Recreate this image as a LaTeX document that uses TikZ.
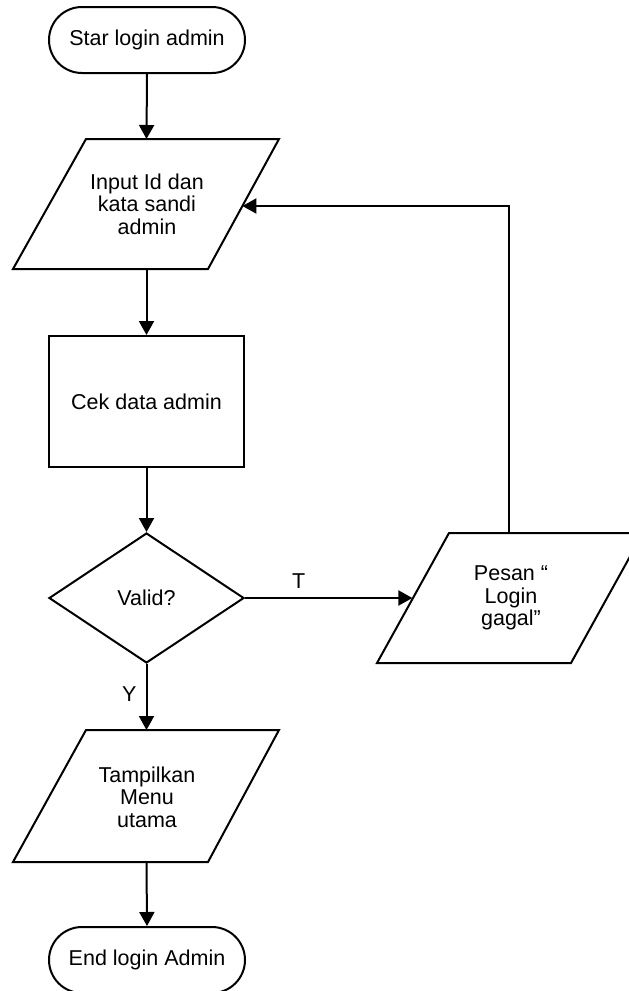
\documentclass[tikz,border=0pt]{standalone}
\usepackage{fontspec}
\setmainfont{Liberation Sans}
\usetikzlibrary{arrows.meta,shapes.geometric}
\begin{document}
\begin{tikzpicture}[x=1pt,y=-1pt,
  every node/.style={font=\fontsize{21.5}{22.5}\selectfont, align=center, inner sep=0pt},
  term/.style={draw, rectangle, rounded corners=33pt, minimum width=196pt, minimum height=66pt, line width=2pt},
  proc/.style={draw, rectangle, minimum width=195pt, minimum height=131pt, line width=2pt},
  dec/.style={draw, diamond, minimum width=195pt, minimum height=130pt, line width=2pt},
  io/.style={draw, line width=2pt, line join=miter},
  conn/.style={line width=2pt, -{Triangle[length=14pt,width=15pt]}}
]
\clip (0,0) rectangle (629,991);
\fill[white] (0,0) rectangle (629,991);

% terminals, process, decision
\node[term] (start) at (147,40) {Star login admin};
\node[proc] (cek) at (146.5,401.5) {Cek data admin};
\node[dec] (valid) at (146.5,598) {Valid?};
\node[term] (end) at (147,960) {End login Admin};

% input parallelogram
\coordinate (inTL) at (86,139);
\coordinate (inTR) at (279,139);
\coordinate (inBR) at (208,269);
\coordinate (inBL) at (13,269);
\draw[io] (inTL) -- (inTR) -- (inBR) -- (inBL) -- cycle;
\node (in) at (147,204) {Input Id dan\\kata sandi\\admin};
\coordinate (inTop) at (146.5,139);
\coordinate (inBot) at (146.5,269);
\coordinate (inRight) at (242.4,206);

% output parallelogram (menu)
\coordinate (tmTL) at (86,730);
\coordinate (tmTR) at (279,730);
\coordinate (tmBR) at (208,862);
\coordinate (tmBL) at (13,862);
\draw[io] (tmTL) -- (tmTR) -- (tmBR) -- (tmBL) -- cycle;
\node (tampil) at (147,797) {Tampilkan\\Menu\\utama};
\coordinate (tmTop) at (146.5,730);
\coordinate (tmBot) at (146.5,862);

% output parallelogram (message)
\coordinate (psTL) at (449,533);
\coordinate (psTR) at (643,533);
\coordinate (psBR) at (571,663);
\coordinate (psBL) at (377,663);
\draw[io] (psTL) -- (psTR) -- (psBR) -- (psBL) -- cycle;
\node (pesan) at (511,598) {Pesan “\\Login\\gagal”};
\coordinate (psLeft) at (412.4,598);
\coordinate (psTop) at (509,533);
\coordinate (bendA) at (509,206);

% connectors
\draw[conn] (start.south) -- (inTop);
\draw[conn] (inBot) -- (cek.north);
\draw[conn] (cek.south) -- (valid.north);
\draw[conn] (valid.east) -- (psLeft) node[pos=0.32, above=9pt] (tlbl) {T};
\draw[conn] (valid.south) -- (tmTop) node[pos=0.45, left=9pt] (ylbl) {Y};
\draw[conn] (tmBot) -- (end.north);
\draw[conn] (psTop) -- (bendA) -- (inRight);
\end{tikzpicture}
\end{document}
